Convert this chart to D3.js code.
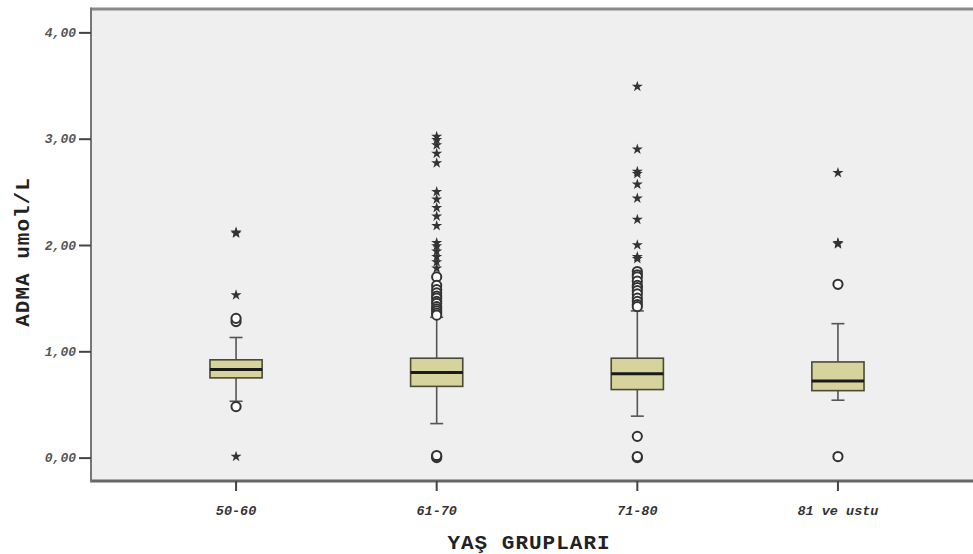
<!DOCTYPE html>
<html>
<head>
<meta charset="utf-8">
<script src="https://cdn.jsdelivr.net/npm/d3@7"></script>
<style>
  html, body { margin: 0; padding: 0; background: #fff; }
  svg { display: block; }
</style>
</head>
<body>
<svg id="chart" width="973" height="554"></svg>
<script>
const categories = ["50-60", "61-70", "71-80", "81 ve ustu"];
const q1 = [0.75, 0.67, 0.64, 0.63];
const medians = [0.83, 0.80, 0.79, 0.72];
const q3 = [0.92, 0.935, 0.935, 0.90];
const whiskerLow = [0.53, 0.32, 0.39, 0.54];
const whiskerHigh = [1.13, 1.32, 1.38, 1.26];
const outliers = [
  [1.28, 1.31, 0.48],
  [1.70, 1.62, 1.58, 1.55, 1.52, 1.50, 1.47, 1.45, 1.42, 1.40, 1.38, 1.36, 1.34, 0.00, 0.01, 0.02],
  [1.75, 1.72, 1.70, 1.66, 1.62, 1.60, 1.57, 1.54, 1.50, 1.47, 1.44, 1.42, 0.20, 0.00, 0.01],
  [1.63, 0.01]
];
const extremes = [
  [2.11, 2.12, 1.53, 0.01],
  [3.02, 2.99, 2.94, 2.86, 2.77, 2.50, 2.43, 2.35, 2.27, 2.18, 2.02, 1.99, 1.94, 1.89, 1.84, 1.78],
  [3.49, 2.90, 2.69, 2.67, 2.57, 2.44, 2.24, 2.00, 1.89, 1.87],
  [2.68, 2.01, 2.02]
];
const yTicks = [0, 1, 2, 3, 4];
const xTitle = "YAŞ GRUPLARI";
const yTitle = "ADMA umol/L";

const svg = d3.select("#chart");
const pLeft = 91, pRight = 983, pTop = 9, pBottom = 481;

const x = d3.scaleBand().domain(categories).range([pLeft, pRight]).paddingInner(0).paddingOuter(0.223);
const y = d3.scaleLinear().domain([-0.22, 4.22]).range([pBottom, pTop]);
const boxW = x.bandwidth() * 0.26;
const capW = 13;
const cx = d => x(d) + x.bandwidth() / 2;

// plot background
svg.append("rect").attr("x", pLeft).attr("y", pTop).attr("width", pRight - pLeft).attr("height", pBottom - pTop)
  .attr("fill", "#efefef");

const data = categories.map((c, i) => ({
  c, q1: q1[i], med: medians[i], q3: q3[i], lo: whiskerLow[i], hi: whiskerHigh[i],
  out: outliers[i], ext: extremes[i]
}));

const g = svg.append("g");
const grp = g.selectAll("g.box").data(data).join("g").attr("class", "box");

// whiskers
grp.append("line").attr("x1", d => cx(d.c)).attr("x2", d => cx(d.c))
  .attr("y1", d => y(d.q3)).attr("y2", d => y(d.hi)).attr("stroke", "#555").attr("stroke-width", 1.6);
grp.append("line").attr("x1", d => cx(d.c)).attr("x2", d => cx(d.c))
  .attr("y1", d => y(d.q1)).attr("y2", d => y(d.lo)).attr("stroke", "#555").attr("stroke-width", 1.6);
grp.append("line").attr("x1", d => cx(d.c) - capW / 2).attr("x2", d => cx(d.c) + capW / 2)
  .attr("y1", d => y(d.hi)).attr("y2", d => y(d.hi)).attr("stroke", "#555").attr("stroke-width", 1.6);
grp.append("line").attr("x1", d => cx(d.c) - capW / 2).attr("x2", d => cx(d.c) + capW / 2)
  .attr("y1", d => y(d.lo)).attr("y2", d => y(d.lo)).attr("stroke", "#555").attr("stroke-width", 1.6);

// boxes
grp.append("rect").attr("x", d => cx(d.c) - boxW / 2).attr("width", boxW)
  .attr("y", d => y(d.q3)).attr("height", d => y(d.q1) - y(d.q3))
  .attr("fill", "#d6d39c").attr("stroke", "#4a4a36").attr("stroke-width", 1.6);
grp.append("line").attr("x1", d => cx(d.c) - boxW / 2).attr("x2", d => cx(d.c) + boxW / 2)
  .attr("y1", d => y(d.med)).attr("y2", d => y(d.med)).attr("stroke", "#1a1a1a").attr("stroke-width", 3);

// outliers (circles) and extremes (stars)
grp.each(function(d) {
  const sel = d3.select(this);
  sel.selectAll("circle").data(d.out).join("circle")
    .attr("cx", cx(d.c)).attr("cy", v => y(v)).attr("r", 4.6)
    .attr("fill", "#fff").attr("stroke", "#333").attr("stroke-width", 2);
  sel.selectAll("path.star").data(d.ext).join("path").attr("class", "star")
    .attr("transform", v => `translate(${cx(d.c)},${y(v)})`)
    .attr("d", d3.symbol().type(d3.symbolStar).size(38)())
    .attr("fill", "#333");
});

// frame lines
svg.append("line").attr("x1", pLeft).attr("x2", 973).attr("y1", pTop).attr("y2", pTop)
  .attr("stroke", "#8a8a8a").attr("stroke-width", 3);
svg.append("line").attr("x1", pLeft).attr("x2", 973).attr("y1", pBottom).attr("y2", pBottom)
  .attr("stroke", "#666").attr("stroke-width", 3);
svg.append("line").attr("x1", pLeft).attr("x2", pLeft).attr("y1", pTop - 1.5).attr("y2", pBottom + 1.5)
  .attr("stroke", "#777").attr("stroke-width", 2);

const fmt = v => d3.format(".2f")(v).replace(".", ",");

// y axis
const yAxis = svg.append("g").attr("transform", `translate(${pLeft},0)`)
  .call(d3.axisLeft(y).tickValues(yTicks).tickFormat(fmt).tickSize(12).tickPadding(3));
yAxis.select(".domain").remove();
yAxis.selectAll(".tick line").attr("stroke", "#444").attr("stroke-width", 2);
yAxis.selectAll(".tick text").attr("fill", "#555")
  .style("font-family", "'Liberation Mono', 'DejaVu Sans Mono', monospace")
  .style("font-weight", "bold").style("font-style", "italic").style("font-size", "13px");

// x axis
const xAxis = svg.append("g").attr("transform", `translate(0,${pBottom})`)
  .call(d3.axisBottom(x).tickSize(10).tickPadding(14));
xAxis.select(".domain").remove();
xAxis.selectAll(".tick line").attr("stroke", "#444").attr("stroke-width", 2);
xAxis.selectAll(".tick text").attr("fill", "#333")
  .style("font-family", "'Liberation Mono', 'DejaVu Sans Mono', monospace")
  .style("font-weight", "bold").style("font-style", "italic").style("font-size", "13.5px");

// titles
svg.append("text").attr("x", 529).attr("y", 549).attr("text-anchor", "middle")
  .attr("fill", "#222")
  .style("font-family", "'Liberation Mono', 'DejaVu Sans Mono', monospace")
  .style("font-weight", "bold").style("font-size", "21px").style("letter-spacing", "1px").text(xTitle);
svg.append("text").attr("transform", "translate(29,252) rotate(-90)").attr("text-anchor", "middle")
  .attr("fill", "#222")
  .style("font-family", "'Liberation Mono', 'DejaVu Sans Mono', monospace")
  .style("font-weight", "bold").style("font-size", "21px").style("letter-spacing", "1px").text(yTitle);
</script>
</body>
</html>
